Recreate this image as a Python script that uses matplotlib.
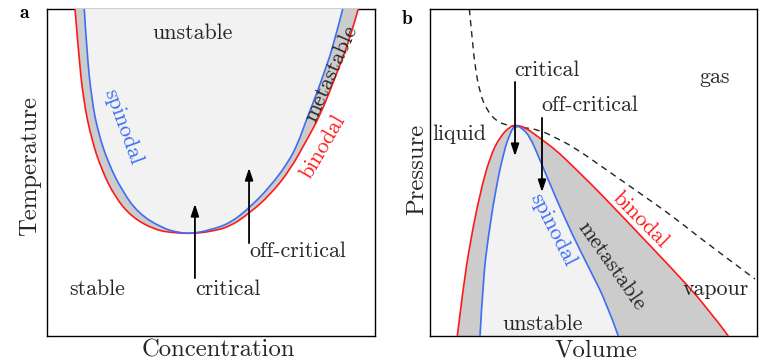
import matplotlib
matplotlib.use("Agg")
import matplotlib.pyplot as plt
from matplotlib.path import Path
from matplotlib.patches import PathPatch
import numpy as np

plt.rcParams['font.family'] = ['cmr10', 'DejaVu Serif']
plt.rcParams['axes.formatter.use_mathtext'] = True

RED = '#ff1a1a'
BLUE = '#3b6ef5'
DARK = '#cccccc'
LIGHT = '#f2f2f2'
TXT = '#262626'

# ---------- panel a: temperature vs concentration (0-100 scaled units) ----------
a_binodal_x = [8.54, 9.54, 11.07, 13.63, 16.68, 20.73, 25.82, 32.93, 39.02, 44.51,
               49.70, 55.79, 61.89, 67.99, 74.09, 79.18, 81.71, 84.15, 86.59, 89.33, 92.38, 94.91]
a_binodal_y = [100, 87.46, 72.17, 59.94, 50.76, 42.51, 36.39, 32.42, 31.50, 31.35,
               31.90, 33.43, 37.71, 43.12, 50.76, 59.94, 64.53, 69.72, 75.84, 82.87, 91.13, 100]
a_spinodal_x = [11.37, 12.10, 13.63, 15.64, 18.69, 22.77, 27.74, 34.97, 40.55, 44.51,
                49.70, 55.79, 61.89, 67.99, 73.63, 76.52, 78.51, 80.49, 82.62, 84.76, 87.20, 90.15]
a_spinodal_y = [100, 87.46, 72.17, 62.08, 52.91, 44.65, 37.61, 33.03, 31.50, 31.35,
                32.42, 34.46, 39.36, 45.66, 53.21, 59.02, 64.53, 69.72, 75.23, 81.35, 88.38, 100]

# ---------- panel b: pressure vs volume ----------
b_binodal_x = [8.35, 10.18, 12.23, 15.29, 18.35, 21.41, 24.46, 25.99,
               29.05, 33.64, 38.53, 43.82, 48.93, 54.04, 64.22, 74.40, 84.62, 91.22]
b_binodal_y = [0, 15.08, 28.35, 43.64, 54.83, 60.95, 64.01, 64.53,
               63.91, 60.46, 56.88, 51.77, 46.79, 41.59, 30.89, 20.18, 8.96, 0]
b_spinodal_x = [15.29, 16.30, 17.83, 19.88, 22.42, 24.46, 25.99,
                28.13, 30.58, 33.64, 38.75, 43.82, 48.93, 54.04, 57.58]
b_spinodal_y = [0, 18.13, 30.37, 43.64, 55.87, 61.99, 64.53,
                63.61, 60.95, 53.82, 41.59, 30.37, 20.18, 10.0, 0]
b_isotherm_x = [12.02, 12.75, 13.76, 15.29, 17.34, 20.40, 24.46, 27.52, 33.64,
                38.53, 43.82, 54.04, 64.22, 74.40, 84.62, 99.39]
b_isotherm_y = [100, 92.57, 82.35, 74.22, 69.11, 65.54, 64.22, 63.91, 63.0,
                60.55, 57.89, 50.76, 43.64, 36.48, 28.35, 17.43]


def smooth_path(xs, ys, closed=False):
    """Quadratic B-spline style path through the read points (drawn by matplotlib)."""
    P = np.column_stack([xs, ys]).astype(float)
    verts = [P[0]]
    codes = [Path.MOVETO]
    n = len(P)
    for i in range(1, n - 1):
        end = (P[i] + P[i + 1]) / 2 if i < n - 2 else P[i + 1]
        verts += [P[i], end]
        codes += [Path.CURVE3, Path.CURVE3]
    if closed:
        verts.append(P[0])
        codes.append(Path.CLOSEPOLY)
    return Path(verts, codes)


W, H = 762, 363
fig = plt.figure(figsize=(W / 100, H / 100), dpi=100)
axa = fig.add_axes([47 / W, 1 - 336 / H, 328 / W, 327 / H])
axb = fig.add_axes([430 / W, 1 - 336 / H, 327 / W, 327 / H])

for ax in (axa, axb):
    ax.set_xlim(0, 100)
    ax.set_ylim(0, 100)
    ax.set_xticks([])
    ax.set_yticks([])
    for s in ax.spines.values():
        s.set_linewidth(1.0)

FS = 15.8
LFS = 17.8

# panel a fills and curves
axa.add_patch(PathPatch(smooth_path(a_binodal_x, a_binodal_y, True), fc=DARK, lw=0,
                        zorder=3, clip_on=False))
axa.add_patch(PathPatch(smooth_path(a_spinodal_x, a_spinodal_y, True), fc=LIGHT, lw=0,
                        zorder=3.1, clip_on=False))
axa.add_patch(PathPatch(smooth_path(a_binodal_x, a_binodal_y), fc='none', ec=RED, lw=1.2,
                        zorder=4))
axa.add_patch(PathPatch(smooth_path(a_spinodal_x, a_spinodal_y), fc='none', ec=BLUE, lw=1.2,
                        zorder=4.1))

axa.text(44.5, 92.7, 'unstable', ha='center', va='center', fontsize=FS, color=TXT, zorder=5)
axa.text(23.2, 63.9, 'spinodal', ha='center', va='center', fontsize=FS, color=BLUE, rotation=-70, zorder=5)
axa.text(86.6, 80.4, 'metastable', ha='center', va='center', fontsize=FS, color=TXT, rotation=66, zorder=5)
axa.text(84.3, 57.8, 'binodal', ha='center', va='center', fontsize=FS, color=RED, rotation=60, zorder=5)
axa.text(15.2, 14.4, 'stable', ha='center', va='center', fontsize=FS, color=TXT)
axa.text(45.1, 14.4, 'critical', ha='left', va='center', fontsize=FS, color=TXT)
axa.text(61.6, 26.0, 'off-critical', ha='left', va='center', fontsize=FS, color=TXT)
arrow = dict(arrowstyle='-|>,head_length=0.6,head_width=0.2', lw=1.3, color='black',
             shrinkA=0, shrinkB=0, mutation_scale=12)
axa.annotate('', xy=(45.1, 40.4), xytext=(45.1, 17.7), arrowprops=arrow, zorder=6)
axa.annotate('', xy=(61.6, 51.4), xytext=(61.6, 28.4), arrowprops=arrow, zorder=6)
axa.set_xlabel('Concentration', fontsize=LFS, color=TXT)
axa.set_ylabel('Temperature', fontsize=LFS, color=TXT)
axa.xaxis.set_label_coords(0.524, -0.01, transform=axa.transAxes)
axa.xaxis.label.set_va('top')
axa.yaxis.set_label_coords(-0.052, 0.52, transform=axa.transAxes)
axa.yaxis.label.set_va('center')

# panel b
axb.add_patch(PathPatch(smooth_path(b_binodal_x, b_binodal_y, True), fc=DARK, lw=0, zorder=1))
axb.add_patch(PathPatch(smooth_path(b_spinodal_x, b_spinodal_y, True), fc=LIGHT, lw=0, zorder=1.1))
axb.add_patch(PathPatch(smooth_path(b_binodal_x, b_binodal_y), fc='none', ec=RED, lw=1.2, zorder=3))
axb.add_patch(PathPatch(smooth_path(b_spinodal_x, b_spinodal_y), fc='none', ec=BLUE, lw=1.2, zorder=3.1))
axb.add_patch(PathPatch(smooth_path(b_isotherm_x, b_isotherm_y), fc='none', ec='#222222', lw=1.0,
                        ls=(0, (4.5, 3.5)), zorder=2))

axb.text(25.7, 81.3, 'critical', ha='left', va='center', fontsize=FS, color=TXT)
axb.text(34.2, 70.6, 'off-critical', ha='left', va='center', fontsize=FS, color=TXT)
axb.annotate('', xy=(26.0, 55.0), xytext=(26.0, 77.7), arrowprops=arrow, zorder=6)
axb.annotate('', xy=(34.25, 44.0), xytext=(34.25, 66.7), arrowprops=arrow, zorder=6)
axb.text(9.0, 61.8, 'liquid', ha='center', va='center', fontsize=FS, color=TXT)
axb.text(86.9, 79.2, 'gas', ha='center', va='center', fontsize=FS, color=TXT)
axb.text(87.5, 14.4, 'vapour', ha='center', va='center', fontsize=FS, color=TXT)
axb.text(34.3, 3.6, 'unstable', ha='center', va='center', fontsize=FS, color=TXT)
axb.text(37.6, 32.4, 'spinodal', ha='center', va='center', fontsize=FS, color=BLUE, rotation=-63)
axb.text(55.7, 21.4, 'metastable', ha='center', va='center', fontsize=FS, color=TXT, rotation=-55)
axb.text(64.4, 35.6, 'binodal', ha='center', va='center', fontsize=FS, color=RED, rotation=-45)
axb.set_xlabel('Volume', fontsize=LFS, color=TXT)
axb.set_ylabel('Pressure', fontsize=LFS, color=TXT)
axb.xaxis.set_label_coords(0.508, -0.01, transform=axb.transAxes)
axb.xaxis.label.set_va('top')
axb.yaxis.set_label_coords(-0.040, 0.51, transform=axb.transAxes)
axb.yaxis.label.set_va('center')

fig.text(20 / W, 1 - 13 / H, 'a', family=['cmb10', 'DejaVu Serif'], fontsize=14,
         ha='left', va='center')
fig.text(402 / W, 1 - 19 / H, 'b', family=['cmb10', 'DejaVu Serif'], fontsize=14,
         ha='left', va='center')

fig.savefig('out.png', dpi=100)
